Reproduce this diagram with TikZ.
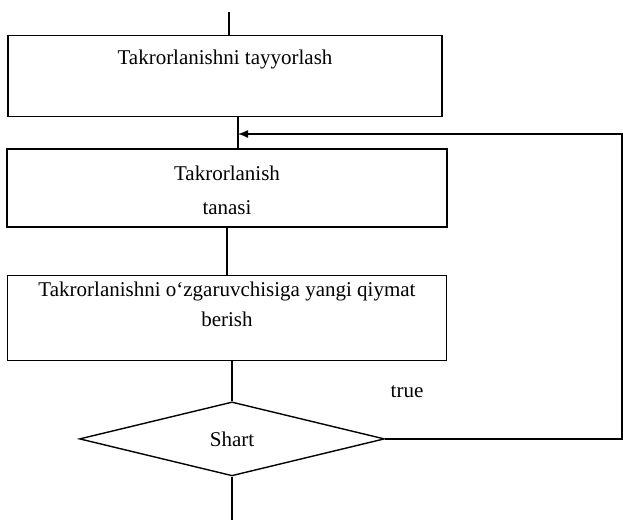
\documentclass[tikz,border=0pt]{standalone}
\usepackage{fontspec}
\setmainfont{Liberation Serif}
\usetikzlibrary{positioning, arrows.meta, shapes.geometric}
\tikzset{
  blk/.style={draw, line width=0.7pt, inner sep=0pt, minimum width=#1,
              font=\fontsize{10.5}{12}\selectfont},
  blk/.default=219pt,
  dec/.style={diamond, draw, line width=0.7pt, inner sep=0pt, minimum width=152.5pt,
              minimum height=37pt, font=\fontsize{10.5}{12}\selectfont},
  ln/.style={line width=0.7pt},
  arr/.style={-{Latex[length=5pt, width=4pt]}, line width=0.7pt},
  lbl/.style={font=\fontsize{10.5}{12}\selectfont, inner sep=1pt},
}
% two centred lines, baseline on the first one
\newcommand{\twolines}[3]{\begin{tabular}[t]{@{}c@{}}#1\\[#3]#2\end{tabular}}

\begin{document}
\begin{tikzpicture}[x=0.5pt, y=-0.5pt]
  \useasboundingbox (0,0) rectangle (623,520);

  \node[blk=217pt, anchor=north, text height=14.5pt, text depth=26pt] (prep) at (225,35) {Takrorlanishni tayyorlash};
  \node[blk=220pt, below=15.5pt of prep, xshift=1pt, text height=15.5pt, text depth=23.5pt] (body) {\twolines{Takrorlanish}{tanasi}{5pt}};
  \node[blk=219.5pt, below=23.5pt of body, text height=10.5pt, text depth=32pt] (step) {\twolines{Takrorlanishni o‘zgaruvchisiga yangi qiymat}{berish}{3pt}};
  \node[dec, below=20pt of step, xshift=2.5pt] (shart) {Shart};
  \node[lbl] (yes) at (407,392) {true};

  \coordinate[above=11.5pt of prep, xshift=2pt] (start);
  \coordinate[below=23pt of shart] (stop);
  \coordinate (join) at ([xshift=5.5pt]body.north);
  \coordinate (back) at (622,134);

  \draw[ln] (start) -- (start |- prep.north);
  \draw[ln] (join |- prep.south) -- (join);
  \draw[ln] (body.south) -- (step.north);
  \draw[ln] (step.south -| shart.north) -- (shart.north);
  \draw[ln] (shart.south) -- (stop);
  \draw[arr] (shart.east) -| (back) -- (join |- back);
\end{tikzpicture}
\end{document}
